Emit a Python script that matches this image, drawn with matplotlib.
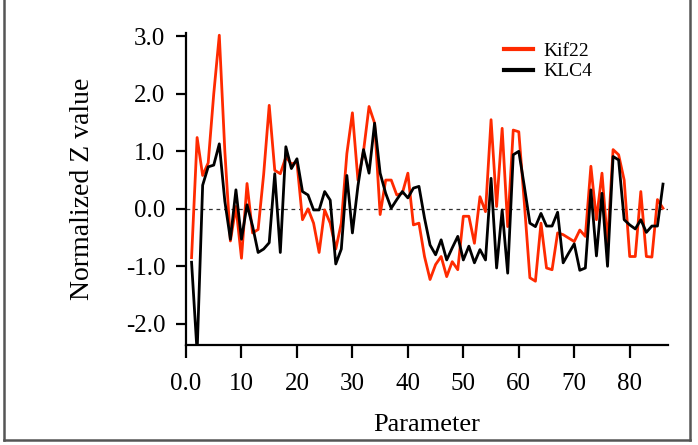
import numpy as np
import matplotlib
matplotlib.use("Agg")
import matplotlib.pyplot as plt
from matplotlib.lines import Line2D

# Parameter index 1..86
param = np.arange(1, 87)

kif22 = [-0.85, 1.24, 0.58, 0.80, 2.00, 3.02, 1.00, -0.56, 0.04, -0.86,
         0.44, -0.42, -0.36, 0.60, 1.80, 0.67, 0.61, 0.90, 0.78, 0.81,
         -0.19, 0.00, -0.25, -0.76, -0.02, -0.25, -0.70, -0.25, 0.96, 1.67,
         0.50, 1.00, 1.78, 1.49, -0.10, 0.50, 0.50, 0.24, 0.27, 0.62,
         -0.28, -0.25, -0.83, -1.23, -0.97, -0.83, -1.18, -0.92, -1.06, -0.13,
         -0.13, -0.60, 0.21, -0.05, 1.55, 0.04, 1.40, -0.31, 1.37, 1.34,
         0.10, -1.20, -1.26, -0.25, -1.03, -1.06, -0.42, -0.45, -0.51, -0.57,
         -0.37, -0.48, 0.74, -0.19, 0.62, -0.60, 1.03, 0.94, 0.50, -0.83,
         -0.83, 0.30, -0.83, -0.84, 0.16, 0.01]

klc4 = [-0.93, -2.50, 0.41, 0.73, 0.76, 1.13, 0.13, -0.53, 0.33, -0.53,
        0.07, -0.30, -0.76, -0.70, -0.59, 0.61, -0.76, 1.08, 0.70, 0.87,
        0.30, 0.24, -0.02, -0.02, 0.30, 0.15, -0.96, -0.70, 0.58, -0.42,
        0.40, 1.03, 0.62, 1.49, 0.62, 0.27, 0.01, 0.16, 0.30, 0.19,
        0.36, 0.39, -0.16, -0.63, -0.80, -0.54, -0.89, -0.68, -0.48, -0.89,
        -0.65, -0.94, -0.71, -0.89, 0.53, -1.03, -0.02, -1.12, 0.94, 1.00,
        0.39, -0.25, -0.31, -0.08, -0.30, -0.30, -0.06, -0.94, -0.77, -0.61,
        -1.07, -1.03, 0.33, -0.82, 0.27, -1.00, 0.91, 0.85, -0.19, -0.28,
        -0.35, -0.19, -0.41, -0.30, -0.30, 0.43]

x_ticks = [0, 10, 20, 30, 40, 50, 60, 70, 80]
x_tick_labels = ["0.0", "10", "20", "30", "40", "50", "60", "70", "80"]
y_ticks = [-2, -1, 0, 1, 2, 3]
y_tick_labels = ["-2.0", "-1.0", "0.0", "1.0", "2.0", "3.0"]

plt.rcParams['font.family'] = ['Liberation Serif', 'DejaVu Serif']

fig = plt.figure(figsize=(6.98, 4.45), dpi=100)
ax = fig.add_axes([0.2665, 0.2247, 0.957 - 0.2665, 0.926 - 0.2247])

ax.axhline(0, color='#333333', lw=0.9, ls=(0, (3, 3)), zorder=1)
ax.plot(param, kif22, color='#ff2a00', lw=2.0, label='Kif22', zorder=2)
ax.plot(param, klc4, color='black', lw=2.0, label='KLC4', zorder=3)

ax.set_xlim(0, 86.9)
ax.set_ylim(-2.37, 3.06)
ax.set_xticks(x_ticks)
ax.set_xticklabels(x_tick_labels)
ax.set_yticks(y_ticks)
ax.set_yticklabels(y_tick_labels)

for s in ['top', 'right']:
    ax.spines[s].set_visible(False)
for s in ['left', 'bottom']:
    ax.spines[s].set_linewidth(1.6)

ax.tick_params(axis='x', direction='out', length=9, width=1.6, pad=11, labelsize=18)
ax.tick_params(axis='y', direction='out', length=7, width=1.6, pad=8, labelsize=18)

ax.set_xlabel('Parameter', fontsize=19, labelpad=14)
ax.set_ylabel('Normalized Z value', fontsize=20, labelpad=22)

leg = ax.legend(loc='upper right', bbox_to_anchor=(0.86, 0.995), frameon=False,
                fontsize=14, handlelength=1.5, handletextpad=0.55, labelspacing=0.15,
                borderaxespad=0)
for h in leg.get_lines():
    h.set_linewidth(3.0)

# outer frame around the picture
frame = [Line2D([4/698, 4/698], [1, 1 - 440/445]),
         Line2D([4/698, 690/698], [1 - 440/445, 1 - 440/445]),
         Line2D([690/698, 690/698], [1, 1 - 440/445])]
for ln in frame:
    ln.set_transform(fig.transFigure)
    ln.set_color('#555555')
    ln.set_linewidth(1.8)
    fig.add_artist(ln)

fig.savefig('out.png', dpi=100)
